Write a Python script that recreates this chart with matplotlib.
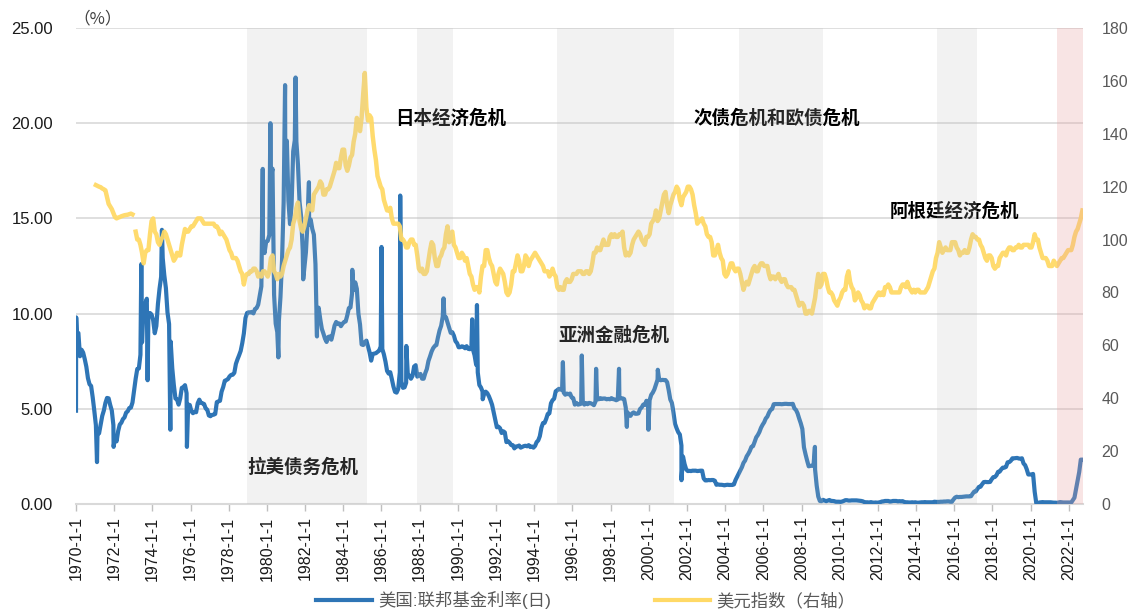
import numpy as np
import matplotlib
matplotlib.use("Agg")
import matplotlib.pyplot as plt
from matplotlib.lines import Line2D

plt.rcParams['font.family'] = ['Liberation Sans', 'Noto Sans CJK SC']
plt.rcParams['axes.unicode_minus'] = False

# US effective fed funds rate, monthly (%), one decade per list
fed_1970s = [8.98, 8.98, 7.76, 8.10, 7.95, 7.61, 7.21, 6.61, 6.29, 6.20, 5.60, 4.90,
             4.14, 3.72, 3.71, 4.16, 4.63, 4.91, 5.31, 5.57, 5.55, 5.20, 4.91, 4.14,
             3.50, 3.29, 3.83, 4.17, 4.27, 4.46, 4.55, 4.80, 4.87, 5.04, 5.06, 5.33,
             5.94, 6.58, 7.09, 7.12, 7.84, 8.49, 10.40, 10.50, 10.78, 10.01, 10.03, 9.95,
             9.65, 8.97, 9.35, 10.51, 11.31, 11.93, 12.92, 12.01, 11.34, 10.06, 9.45, 8.53,
             7.13, 6.24, 5.54, 5.49, 5.22, 5.55, 6.10, 6.14, 6.24, 5.82, 5.22, 5.20,
             4.87, 4.77, 4.84, 4.82, 5.29, 5.48, 5.31, 5.29, 5.25, 5.02, 4.95, 4.65,
             4.61, 4.68, 4.69, 4.73, 5.35, 5.39, 5.42, 5.90, 6.14, 6.47, 6.51, 6.56,
             6.70, 6.78, 6.79, 6.89, 7.36, 7.60, 7.81, 8.04, 8.45, 8.96, 9.76, 10.03,
             10.07, 10.06, 10.09, 10.01, 10.24, 10.29, 10.47, 10.94, 11.43, 13.77, 13.18, 13.78]
fed_1980s = [13.82, 14.13, 17.19, 17.61, 10.98, 9.47, 9.03, 9.61, 10.87, 12.81, 15.85, 18.90,
             19.08, 15.93, 14.70, 15.72, 18.52, 19.10, 19.04, 17.82, 15.87, 15.08, 13.31, 12.37,
             13.22, 14.78, 14.68, 14.94, 14.45, 14.15, 12.59, 10.12, 10.31, 9.71, 9.20, 8.95,
             8.68, 8.51, 8.77, 8.80, 8.63, 8.98, 9.37, 9.56, 9.45, 9.48, 9.34, 9.47,
             9.56, 9.59, 9.91, 10.29, 10.32, 11.06, 11.23, 11.64, 11.30, 9.99, 9.43, 8.38,
             8.35, 8.50, 8.58, 8.27, 7.97, 7.53, 7.88, 7.90, 7.92, 7.99, 8.05, 8.27,
             8.14, 7.86, 7.48, 6.99, 6.85, 6.92, 6.56, 6.17, 5.89, 5.85, 6.04, 6.91,
             6.43, 6.10, 6.13, 6.37, 6.85, 6.73, 6.58, 6.73, 7.22, 7.29, 6.69, 6.77,
             6.83, 6.58, 6.58, 6.87, 7.09, 7.51, 7.75, 8.01, 8.19, 8.30, 8.35, 8.76,
             9.12, 9.36, 9.85, 9.84, 9.81, 9.53, 9.24, 8.99, 9.02, 8.84, 8.55, 8.45]
fed_1990s = [8.23, 8.24, 8.28, 8.26, 8.18, 8.29, 8.15, 8.13, 8.20, 8.11, 7.81, 7.31,
             6.91, 6.25, 6.12, 5.91, 5.78, 5.90, 5.82, 5.66, 5.45, 5.21, 4.81, 4.43,
             4.03, 4.06, 3.98, 3.73, 3.82, 3.76, 3.25, 3.30, 3.22, 3.10, 3.09, 2.92,
             3.02, 3.03, 3.07, 2.96, 3.00, 3.04, 3.06, 3.03, 3.09, 2.99, 3.02, 2.96,
             3.05, 3.25, 3.34, 3.56, 4.01, 4.25, 4.26, 4.47, 4.73, 4.76, 5.29, 5.45,
             5.53, 5.92, 5.98, 6.05, 6.01, 6.00, 5.85, 5.74, 5.80, 5.76, 5.80, 5.60,
             5.56, 5.22, 5.31, 5.22, 5.24, 5.27, 5.40, 5.22, 5.30, 5.24, 5.31, 5.29,
             5.25, 5.19, 5.39, 5.51, 5.50, 5.56, 5.52, 5.54, 5.54, 5.50, 5.52, 5.50,
             5.56, 5.51, 5.49, 5.45, 5.49, 5.56, 5.54, 5.55, 5.51, 5.07, 4.83, 4.68,
             4.63, 4.76, 4.81, 4.74, 4.74, 4.76, 4.99, 5.07, 5.22, 5.20, 5.42, 5.30]
fed_2000s = [5.45, 5.73, 5.85, 6.02, 6.27, 6.53, 6.54, 6.50, 6.52, 6.51, 6.51, 6.40,
             5.98, 5.49, 5.31, 4.80, 4.21, 3.97, 3.77, 3.65, 3.07, 2.49, 2.09, 1.82,
             1.73, 1.74, 1.73, 1.75, 1.75, 1.75, 1.73, 1.74, 1.75, 1.75, 1.34, 1.24,
             1.24, 1.26, 1.25, 1.26, 1.26, 1.22, 1.01, 1.03, 1.01, 1.01, 1.00, 0.98,
             1.00, 1.01, 1.00, 1.00, 1.00, 1.03, 1.26, 1.43, 1.61, 1.76, 1.93, 2.16,
             2.28, 2.50, 2.63, 2.79, 3.00, 3.04, 3.26, 3.50, 3.62, 3.78, 4.00, 4.16,
             4.29, 4.49, 4.59, 4.79, 4.94, 4.99, 5.24, 5.25, 5.25, 5.25, 5.25, 5.24,
             5.25, 5.26, 5.26, 5.25, 5.25, 5.25, 5.26, 5.02, 4.94, 4.76, 4.49, 4.24,
             3.94, 2.98, 2.61, 2.28, 1.98, 2.00, 2.01, 2.00, 1.81, 0.97, 0.39, 0.16,
             0.15, 0.22, 0.18, 0.15, 0.18, 0.21, 0.16, 0.16, 0.15, 0.12, 0.12, 0.12]
fed_2010s = [0.11, 0.13, 0.16, 0.20, 0.20, 0.18, 0.18, 0.19, 0.19, 0.19, 0.19, 0.18,
             0.17, 0.16, 0.14, 0.10, 0.09, 0.09, 0.07, 0.10, 0.08, 0.07, 0.08, 0.07,
             0.08, 0.10, 0.13, 0.14, 0.16, 0.16, 0.16, 0.13, 0.14, 0.16, 0.16, 0.16,
             0.14, 0.15, 0.14, 0.15, 0.11, 0.09, 0.09, 0.08, 0.08, 0.09, 0.08, 0.09,
             0.07, 0.07, 0.08, 0.09, 0.09, 0.10, 0.09, 0.09, 0.09, 0.09, 0.09, 0.12,
             0.11, 0.11, 0.11, 0.12, 0.12, 0.13, 0.13, 0.14, 0.14, 0.12, 0.12, 0.24,
             0.34, 0.38, 0.36, 0.37, 0.37, 0.38, 0.39, 0.40, 0.40, 0.40, 0.41, 0.54,
             0.65, 0.66, 0.79, 0.90, 0.91, 1.04, 1.15, 1.16, 1.15, 1.15, 1.16, 1.30,
             1.41, 1.42, 1.51, 1.69, 1.70, 1.82, 1.91, 1.91, 1.95, 2.19, 2.20, 2.27,
             2.40, 2.40, 2.41, 2.42, 2.39, 2.38, 2.40, 2.13, 2.04, 1.83, 1.55, 1.55]
fed_2020s = [1.55, 1.58, 0.65, 0.05, 0.05, 0.08, 0.09, 0.10, 0.09, 0.09, 0.09, 0.09,
             0.09, 0.08, 0.07, 0.07, 0.06, 0.08, 0.10, 0.09, 0.08, 0.08, 0.08, 0.08,
             0.08, 0.08, 0.20, 0.33, 0.77, 1.21, 1.68, 2.33, 2.33]

# single-day spikes visible in the daily series (decimal year, %)
fed_spike_t = [1970.0, 1970.01, 1971.10, 1971.97, 1973.42, 1973.75, 1974.50, 1974.94,
               1975.81, 1979.78, 1980.18, 1980.60, 1980.95, 1981.50, 1981.90, 1982.20,
               1982.62, 1984.47, 1986.00, 1986.98, 1987.30, 1989.25, 1990.75, 1991.00,
               1991.30, 1995.50, 1996.49, 1997.24, 1998.44, 1998.85, 1999.98, 2000.47,
               2001.71, 2008.70]
fed_spike_v = [4.9, 9.8, 2.2, 3.0, 12.6, 6.5, 14.4, 3.9,
               3.0, 17.6, 20.0, 7.7, 22.0, 22.4, 11.8, 16.9,
               8.8, 12.3, 13.5, 16.2, 8.3, 10.8, 9.7, 10.45,
               5.5, 7.45, 7.8, 7.1, 7.1, 4.05, 3.9, 7.05,
               1.25, 3.0]

# US dollar index, monthly, from 1971-01 (nan = break in the series)
dxy_1970s = [120.6, 120.3, 120.0, 119.8, 119.3, 119.0, 118.6, 116.0, 113.5, 112.5, 111.5, 110.0,
             108.5, 108.0, 108.3, 108.5, 108.8, 109.0, 109.2, 109.3, 109.4, 109.6, 109.8, 109.5,
             np.nan, 103, 100, 100, 98, 95, 91, 95, 96, 96, 102, 107,
             108, 103, 102, 99, 98, 100, 101, 103, 102, 100, 98, 96,
             94, 92, 93, 95, 94, 94, 98, 101, 104, 103, 103, 104,
             105, 105, 106, 107, 108, 108, 108, 107, 106, 106, 106, 106,
             106, 106, 106, 105, 105, 104, 102, 103, 102, 101, 100, 98,
             96, 95, 93, 93, 93, 92, 90, 88, 87, 83, 86, 87,
             87, 88, 88, 89, 89, 88, 86, 87, 86, 88, 88, 87]
dxy_1980s = [86, 88, 93, 94, 88, 87, 85, 87, 86, 87, 90, 92,
             94, 96, 97, 100, 106, 108, 112, 114, 107, 104, 103, 105,
             108, 111, 113, 112, 111, 117, 118, 119, 120, 122, 121, 117,
             117, 119, 119, 120, 122, 124, 126, 129, 127, 127, 131, 134,
             134, 128, 126, 128, 131, 132, 137, 140, 146, 144, 141, 146,
             155, 163, 150, 145, 147, 146, 139, 134, 130, 124, 122, 120,
             119, 115, 113, 111, 111, 112, 108, 106, 106, 106, 106, 105,
             100, 100, 99, 97, 97, 99, 100, 100, 98, 98, 94, 89,
             88, 89, 87, 87, 88, 92, 96, 99, 98, 93, 90, 90,
             93, 94, 96, 97, 102, 105, 99, 101, 103, 98, 97, 95]
dxy_1990s = [93, 93, 95, 94, 92, 93, 90, 87, 86, 83, 81, 82,
             82, 80, 86, 90, 90, 96, 96, 93, 91, 90, 87, 84,
             83, 87, 89, 88, 87, 84, 80, 79, 80, 83, 88, 88,
             91, 94, 92, 88, 88, 90, 94, 93, 90, 92, 93, 94,
             95, 94, 93, 92, 91, 90, 88, 88, 88, 86, 87, 89,
             87, 86, 82, 81, 82, 81, 81, 84, 85, 84, 84, 85,
             87, 87, 87, 88, 88, 88, 87, 87, 88, 88, 87, 88,
             91, 95, 95, 97, 96, 96, 98, 100, 98, 98, 98, 101,
             102, 101, 102, 101, 101, 102, 102, 103, 97, 94, 95, 94,
             95, 98, 100, 101, 102, 103, 102, 100, 99, 98, 101, 101]
dxy_2000s = [102, 106, 107, 108, 111, 107, 108, 111, 114, 117, 118, 113,
             110, 113, 115, 117, 118, 120, 119, 115, 113, 116, 117, 118,
             120, 120, 119, 117, 113, 110, 106, 107, 107, 108, 106, 105,
             102, 101, 101, 99, 94, 94, 96, 98, 95, 93, 92, 87,
             86, 87, 89, 91, 91, 89, 88, 89, 89, 87, 84, 81,
             83, 84, 83, 85, 87, 89, 90, 88, 88, 90, 91, 91,
             90, 90, 90, 87, 85, 86, 86, 85, 86, 87, 85, 84,
             85, 85, 83, 82, 82, 82, 81, 81, 79, 77, 75, 76,
             76, 75, 72, 72, 73, 73, 72, 75, 78, 83, 87, 82,
             83, 87, 87, 85, 82, 80, 80, 79, 77, 76, 75, 77]
dxy_2010s = [78, 80, 81, 81, 86, 88, 84, 82, 81, 77, 78, 80,
             79, 77, 76, 74, 75, 75, 74, 74, 76, 77, 78, 79,
             80, 79, 80, 79, 82, 82, 83, 82, 80, 80, 80, 80,
             80, 80, 82, 83, 83, 82, 84, 82, 81, 80, 81, 80,
             81, 81, 80, 80, 80, 80, 81, 82, 84, 86, 88, 89,
             93, 95, 99, 97, 95, 96, 97, 96, 96, 96, 99, 99,
             99, 97, 96, 94, 95, 95, 96, 95, 95, 97, 100, 102,
             101, 101, 100, 100, 98, 97, 95, 93, 92, 94, 94, 93,
             90, 89, 90, 90, 93, 94, 95, 95, 94, 96, 97, 97,
             96, 96, 97, 97, 98, 97, 97, 98, 98, 98, 98, 97]
dxy_2020s = [97, 99, 102, 100, 100, 97, 95, 93, 93, 93, 92, 90,
             90, 90, 92, 91, 90, 91, 92, 93, 93, 94, 95, 96,
             96, 96, 98, 101, 103, 104, 106, 108, 111]

# crisis periods (decimal year)
crisis_start = [1978.95, 1987.84, 1995.20, 2004.74, 2015.10]
crisis_end = [1985.22, 1989.72, 2001.30, 2009.13, 2017.20]
current_start = 2021.37
current_end = 2022.74
crisis_names = ['拉美债务危机', '日本经济危机', '亚洲金融危机', '次债危机和欧债危机', '阿根廷经济危机']
label_x = [1978.97, 1986.72, 1995.27, 2002.33, 2012.60]
label_y = [1.94, 20.27, 8.88, 20.27, 15.35]

# build series
fed = np.array(fed_1970s + fed_1980s + fed_1990s + fed_2000s + fed_2010s + fed_2020s)
fed_t = 1970 + (np.arange(len(fed)) + 0.5) / 12
fed_t = np.concatenate([fed_t, fed_spike_t])
fed = np.concatenate([fed, fed_spike_v])
order = np.argsort(fed_t, kind='stable')
fed_t, fed = fed_t[order], fed[order]

dxy = np.array(dxy_1970s + dxy_1980s + dxy_1990s + dxy_2000s + dxy_2010s + dxy_2020s, dtype=float)
dxy_t = 1971 + (np.arange(len(dxy)) + 0.5) / 12

blue = '#2E75B6'
yellow = '#FFD966'

fig = plt.figure(figsize=(11.31, 6.09), dpi=100)
ax = fig.add_axes([76 / 1131, 1 - 504 / 609, (1083 - 76) / 1131, (504 - 28) / 609])
ax2 = ax.twinx()

ax.plot(fed_t, fed, color=blue, lw=3.0, solid_joinstyle='round', zorder=3)
ax2.plot(dxy_t, dxy, color=yellow, lw=3.2, alpha=0.95, solid_joinstyle='round', zorder=3)

for s, e in zip(crisis_start, crisis_end):
    ax2.axvspan(s, e, color='#BFBFBF', alpha=0.2, lw=0, zorder=4)
ax2.axvspan(current_start, current_end, color='#E8A0A0', alpha=0.28, lw=0, zorder=4)

ax.set_xlim(1970.0, 2022.74)
ax.set_ylim(0, 25)
ax2.set_ylim(0, 180)

ax.set_yticks(np.arange(0, 26, 5))
ax.set_yticklabels([f'{v:.2f}' for v in np.arange(0, 26, 5)], fontsize=12, color='#1a1a1a')
ax2.set_yticks(np.arange(0, 181, 20))
ax2.set_yticklabels([str(v) for v in range(0, 181, 20)], fontsize=11.5, color='#595959')

years = list(range(1970, 2023, 2))
ax.set_xticks(years)
ax.set_xticklabels([f'{y}-1-1' for y in years], rotation=90, fontsize=11.5, color='#1a1a1a')

ax.grid(axis='y', color='#D9D9D9', lw=1.2)
ax.set_axisbelow(True)
for a in (ax, ax2):
    for side in ('left', 'right', 'top'):
        a.spines[side].set_visible(False)
ax.spines['bottom'].set_color('#D9D9D9')
ax.spines['bottom'].set_linewidth(1.5)
ax2.spines['bottom'].set_visible(False)
ax.tick_params(axis='x', length=5, color='#BFBFBF', width=1, pad=4)
ax.tick_params(axis='y', length=0, pad=16.5)
ax2.tick_params(axis='y', length=0, pad=13.5)

for name, x, y in zip(crisis_names, label_x, label_y):
    ax.text(x, y, name, fontsize=13.3, fontweight='bold', color='black',
            family=['Noto Sans CJK SC'], ha='left', va='center', zorder=6)

fig.text(73 / 1131, 1 - 19 / 609, '\uff08%\uff09', fontsize=12, color='#404040', ha='left', va='center',
         family=['Noto Sans CJK SC', 'DejaVu Sans'])

handles = [Line2D([0], [0], color=blue, lw=3), Line2D([0], [0], color=yellow, lw=3)]
fig.legend(handles, ['美国:联邦基金利率(日)', '美元指数（右轴）'], loc='center',
           bbox_to_anchor=(0.518, 1 - 600 / 609), ncol=2, frameon=False,
           fontsize=12.5, handlelength=3.2, handletextpad=0.35, columnspacing=6.0,
           labelcolor='#595959')

fig.savefig('out.png', dpi=100)
